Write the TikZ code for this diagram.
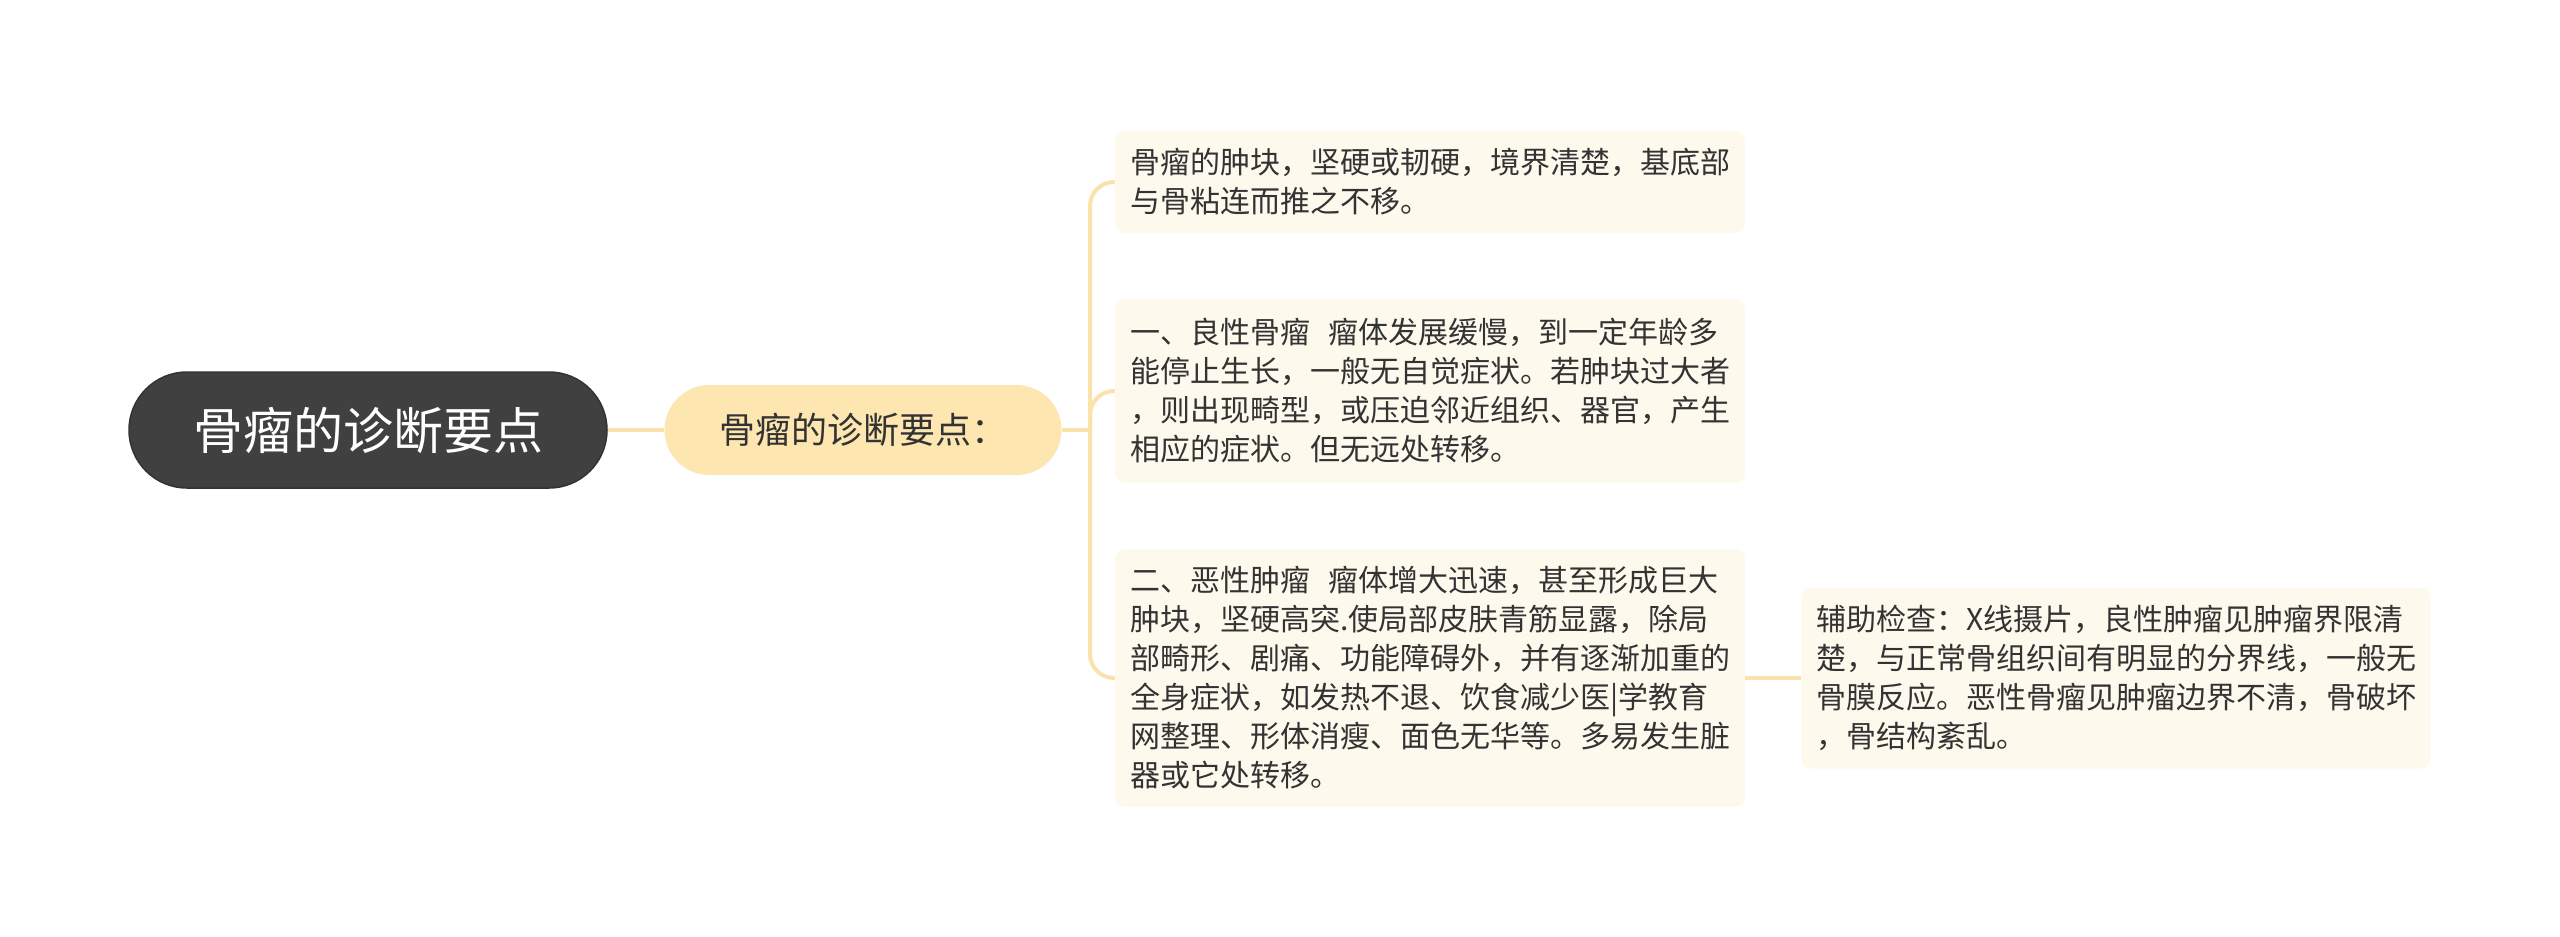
\documentclass[tikz,border=0pt]{standalone}
\usepackage{fontspec}
\setmainfont{Noto Sans CJK SC}
\definecolor{linkc}{RGB}{250,227,170}
\definecolor{midc}{RGB}{253,230,176}
\definecolor{boxc}{RGB}{253,249,237}
\definecolor{rootc}{RGB}{64,64,64}
\definecolor{textc}{RGB}{51,51,51}
\begin{document}
\begin{tikzpicture}[x=1pt,y=-1pt,
    link/.style={draw=linkc,line width=4pt,rounded corners=24pt},
    rootnode/.style={draw=rootc!80!black,line width=1.5pt,fill=rootc,text=white,rounded corners=58pt,minimum width=478pt,minimum height=116pt,font=\fontsize{50}{60}\selectfont},
    midnode/.style={fill=midc,text=textc,rounded corners=45pt,minimum width=397pt,minimum height=90pt,font=\fontsize{36}{44}\selectfont},
    leaf/.style={fill=boxc,text=textc,rounded corners=10pt,align=left,minimum width=630pt,font=\fontsize{30}{39}\selectfont}]
    \useasboundingbox[fill=white] (0,0) rectangle (2560,937);
    % main topic and its one branch
    \node [rootnode] (root) at (368,430) {骨瘤的诊断要点};
    \node [midnode] (mid) at (863,430) {骨瘤的诊断要点：};
    % the detail boxes
    \node [leaf,minimum height=102pt] (mass) at (1430,182)
        {骨瘤的肿块，坚硬或韧硬，境界清楚，基底部\\与骨粘连而推之不移。};
    \node [leaf,minimum height=184pt] (benign) at (1430,391)
        {一、良性骨瘤\hspace{0.6em}瘤体发展缓慢，到一定年龄多\\能停止生长，一般无自觉症状。若肿块过大者\\，则出现畸型，或压迫邻近组织、器官，产生\\相应的症状。但无远处转移。};
    \node [leaf,minimum height=258pt] (malign) at (1430,678)
        {二、恶性肿瘤\hspace{0.6em}瘤体增大迅速，甚至形成巨大\\肿块，坚硬高突.使局部皮肤青筋显露，除局\\部畸形、剧痛、功能障碍外，并有逐渐加重的\\全身症状，如发热不退、饮食减少医|学教育\\网整理、形体消瘦、面色无华等。多易发生脏\\器或它处转移。};
    \node [leaf,minimum width=629pt,minimum height=181pt] (xray) at (2116,678)
        {辅助检查：X线摄片，良性肿瘤见肿瘤界限清\\楚，与正常骨组织间有明显的分界线，一般无\\骨膜反应。恶性骨瘤见肿瘤边界不清，骨破坏\\，骨结构紊乱。};
    % connectors
    \coordinate (fork) at (1090,430);
    \draw [link] (root.east) -- (mid.west);
    \draw [link] (mid.east) -- (fork);
    \draw [link] (fork) |- (mass.west);
    \draw [link] (fork) |- (benign.west);
    \draw [link] (fork) |- (malign.west);
    \draw [link] (malign.east) -- (xray.west);
\end{tikzpicture}
\end{document}
